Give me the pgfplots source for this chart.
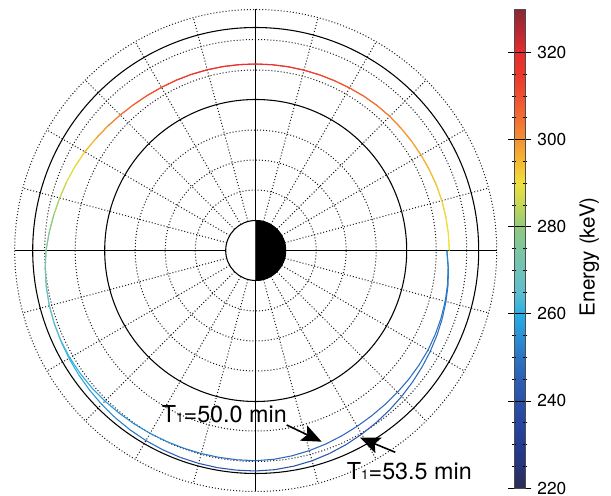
\documentclass[border=0pt]{standalone}
\usepackage{fontspec}
\setmainfont{TeX Gyre Heros}
\usepackage{pgfplots}
\usepackage{pgfplotstable}
\pgfplotsset{compat=1.18}
\usetikzlibrary{arrows.meta}

% drift paths: t = angle (deg, counterclockwise from +x), r = radius (px units), E = energy (keV)
\pgfplotstableread{
t r E
0 193.6 290
5 193.4 290
10 193.1 291
15 192.7 292
20 192.2 294
25 191.5 295
30 190.9 297
35 190.4 298
40 190.0 300
45 189.6 302
50 189.1 304
55 188.4 306
60 187.7 308
65 187.2 310
70 186.9 312
75 186.7 314
80 186.6 316
85 186.5 317
90 186.5 318
95 186.6 318
100 186.8 318
105 187.1 317
110 187.5 315
115 187.9 313
120 188.4 311
125 189.2 309
130 190.2 306
135 191.6 303
140 193.3 300
145 195.2 297
150 197.3 293
155 199.3 290
160 201.1 287
165 202.9 284
170 205.0 281
175 207.3 278
180 209.7 276
185 211.3 273
190 212.6 270
195 213.6 267
200 214.3 265
205 214.6 263
210 214.6 261
215 214.3 259.5
220 213.8 258
225 213.1 257
230 212.4 256
235 211.8 255
240 211.2 254
245 210.7 253
250 210.4 252
255 210.2 251
260 210.1 250
265 210.1 249
270 210.2 248
275 209.6 248
280 208.5 247
285 207.2 247
290 205.8 247
295 204.3 247
300 203.0 247
305 201.9 247
310 201.1 248
315 200.5 248
320 200.0 248
325 199.5 249
330 199.0 249
335 198.2 250
340 197.3 250
345 196.2 251
350 194.8 251
355 193.1 252
360 191.2 253
}\pathA

\pgfplotstableread{
t r E
0 193.6 290
5 193.4 290
10 193.1 291
15 192.7 292
20 192.2 294
25 191.5 295
30 190.9 297
35 190.4 298
40 190.0 300
45 189.6 302
50 189.1 304
55 188.4 306
60 187.7 308
65 187.2 310
70 186.9 312
75 186.7 314
80 186.6 316
85 186.5 317
90 186.5 318
95 186.6 318
100 186.8 318
105 187.1 317
110 187.5 315
115 187.9 313
120 188.4 311
125 189.2 309
130 190.2 306
135 191.6 303
140 193.3 300
145 195.2 297
150 197.3 293
155 199.3 290
160 201.1 287
165 202.9 284
170 205.0 281
175 207.3 278
180 209.7 276
185 211.3 273
190 212.6 270
195 213.6 267
200 214.3 265
205 214.9 263
210 215.6 261
215 216.3 259
220 217.0 257
225 217.7 255
230 218.4 253
235 219.0 251
240 219.5 249
245 219.9 247
250 220.2 245
255 220.4 243
260 220.5 241
265 220.5 240
270 220.5 239
275 220.0 239
280 219.0 240
285 217.7 240
290 216.0 241
295 214.1 242
300 212.1 243
305 210.1 244
310 208.2 245
315 206.4 246
320 204.7 247
325 203.1 248
330 201.6 249
335 200.1 249
340 198.6 250
345 197.0 251
350 195.4 251
355 193.4 252
360 191.2 253
}\pathB

\tikzset{griddot/.style={black!90, line width=0.75pt, dash pattern=on 0.75pt off 1.55pt}}

\begin{document}
\begin{tikzpicture}
\useasboundingbox (0,0) rectangle (458.25pt,372pt);
\begin{axis}[
  x=0.75pt, y=0.75pt,
  xmin=-250, xmax=250, ymin=-250, ymax=250,
  hide axis, clip=false,
  anchor=origin, at={(191.775pt,184.125pt)},
  colormap={energy}{
    rgb255=(45,45,85) rgb255=(38,52,120) rgb255=(35,60,145) rgb255=(38,70,160)
    rgb255=(42,82,168) rgb255=(45,95,180) rgb255=(45,115,195) rgb255=(40,145,215)
    rgb255=(40,175,230) rgb255=(95,190,205) rgb255=(110,195,185) rgb255=(125,198,160)
    rgb255=(145,202,125) rgb255=(195,215,85) rgb255=(238,225,60) rgb255=(245,185,50)
    rgb255=(245,145,50) rgb255=(242,110,50) rgb255=(240,80,48) rgb255=(235,55,45)
    rgb255=(230,45,45) rgb255=(185,40,50) rgb255=(135,40,50)},
  point meta min=220, point meta max=330,
  colorbar,
  colorbar style={
    at={(parent axis.south west)}, anchor=south west,
    xshift=372.975pt, yshift=9.375pt,
    scale only axis, width=8.25pt, height=359.25pt,
    ytick={220,240,...,320}, minor y tick num=3,
    yticklabel pos=right,
    tick align=center, major tick length=9pt, minor tick length=3pt,
    every tick/.style={black, line width=0.6pt},
    axis line style={line width=0.4pt, black!70},
    /pgf/number format/assume math mode=true,
    yticklabel style={font=\fontsize{13}{15}\selectfont, xshift=1pt},
    ylabel={Energy (keV)},
    ylabel style={font=\fontsize{15.5}{18}\selectfont, at={(axis description cs:6.82,0.483)}, anchor=center, rotate=0},
  },
]
% dotted grid circles
\draw[griddot] (axis cs:0,0) circle[radius=60.5];
\draw[griddot] (axis cs:0,0) circle[radius=90.5];
\draw[griddot] (axis cs:0,0) circle[radius=120.5];
\draw[griddot] (axis cs:0,0) circle[radius=180.5];
\draw[griddot] (axis cs:0,0) circle[radius=211];
\draw[griddot] (axis cs:0,0) circle[radius=241];
% dotted radial lines every 15 degrees
\pgfplotsinvokeforeach{15,30,45,60,75,105,120,135,150,165,195,210,225,240,255,285,300,315,330,345}{
  \addplot[griddot, data cs=polar] coordinates {(#1,30) (#1,241)};
}
% solid circles
\draw[black, line width=0.8pt] (axis cs:0,0) circle[radius=151];
\draw[black, line width=0.8pt] (axis cs:0,0) circle[radius=223];
% solid axes
\addplot[black, line width=0.8pt] coordinates {(-241,0) (241,0)};
\addplot[black, line width=0.8pt] coordinates {(0,-241) (0,241)};
% drift paths
\addplot[mesh, line width=0.8pt, point meta=explicit, data cs=polar] table[x=t, y=r, meta=E] {\pathB};
\addplot[mesh, line width=0.8pt, point meta=explicit, data cs=polar] table[x=t, y=r, meta=E] {\pathA};
% Earth
\draw[black, fill=white, line width=0.8pt] (axis cs:0,0) circle[radius=30];
\addplot[fill=black, draw=black, line width=0.5pt, data cs=polar] coordinates {
(-90,30) (-80,30) (-70,30) (-60,30) (-50,30) (-40,30) (-30,30) (-20,30) (-10,30) (0,30)
(10,30) (20,30) (30,30) (40,30) (50,30) (60,30) (70,30) (80,30) (90,30)} -- cycle;
\end{axis}
\begin{scope}[x=0.75pt, y=0.75pt]
\node[anchor=base west, inner sep=0pt, font=\fontsize{17.5}{20}\selectfont] at (161.7,73.3) {T{\fontsize{10}{10}\selectfont 1}=50.0 min};
\node[anchor=base west, inner sep=0pt, font=\fontsize{17.5}{20}\selectfont] at (346.7,16.7) {T{\fontsize{10}{10}\selectfont 1}=53.5 min};
\draw[black, line width=1.2pt, -{Stealth[length=15pt, width=12.5pt, inset=3pt]}] (286.7,71) -- (321.7,54.3);
\draw[black, line width=1.2pt, -{Stealth[length=15pt, width=12.5pt, inset=3pt]}] (395.3,43.7) -- (360,58.3);
\end{scope}
\end{tikzpicture}
\end{document}
